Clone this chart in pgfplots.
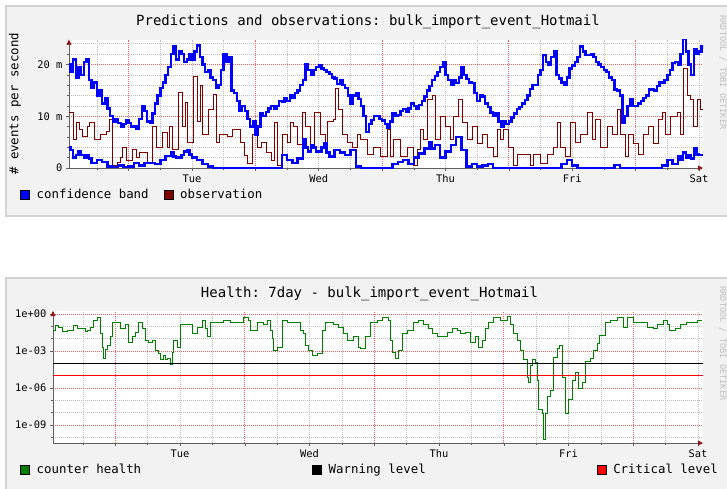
\documentclass[border=0pt]{standalone}
\usepackage{fontspec}
\setmainfont{DejaVu Sans Mono}
\usepackage{pgfplots}
\pgfplotsset{compat=1.18}
\usepackage{pgfplotstable}
\usetikzlibrary{arrows.meta}

\definecolor{panelbg}{HTML}{F2F2F2}
\definecolor{panelrule}{HTML}{D2D2D2}
\definecolor{bandblue}{HTML}{0000FF}
\definecolor{obsred}{HTML}{800000}
\definecolor{healthgreen}{HTML}{008000}
\definecolor{critred}{HTML}{FF0000}
\definecolor{axisgray}{HTML}{606060}
\definecolor{arrowred}{HTML}{901818}
\definecolor{gridgray}{HTML}{BEBEBE}
\definecolor{gridred}{HTML}{F06060}
\definecolor{wmgray}{HTML}{C0C0C0}

% upper and lower edge of the confidence band, hours from Monday 00:00
\pgfplotstableread{
h v
0.71 20
1 18.5
1.5 21
2 17.5
2.5 19.5
3 18
3.5 20.5
4 21
4.5 17
5 15.5
5.5 16.5
6 14
6.5 15
7 12.5
7.5 13.5
8 11.5
8.5 10
9 9
9.5 9.5
10 8.7
10.5 8
11 8.5
11.5 9.2
12 8.7
12.5 8
13 8
13.5 7.5
14 9.5
14.5 12
15 11
15.5 9
16 8.7
16.5 10.5
17 12.5
17.5 14
18 15.5
18.5 16.5
19 18
19.5 19.5
20 22
20.5 23.5
21 21
21.5 22.5
22 22
22.5 20.5
23 21
23.5 22
24 21
24.5 22.5
25 23.7
25.5 21.5
26 20
26.5 18.5
27 19
27.5 17.5
28 17
28.5 15.5
29 16
29.5 19
30 22
30.5 20.5
31 21.5
31.5 15
32 14.5
32.5 13
33 11
33.5 12
34 11
34.5 9.5
35 8
35.5 9
36 6.5
36.5 8
37 10.5
37.5 10
38 10.8
38.5 11.5
39 12
39.5 11.5
40 12
40.5 13
41 12.8
41.5 13.5
42 13
42.5 14
43 13.6
43.5 14.5
44 15
44.5 16
45 17
45.5 20
46 19
46.5 18
47 19
47.5 19.5
48 19.8
48.5 19.2
49 19
49.5 18.5
50 18.2
50.5 17.5
51 17.3
51.5 16.2
52 17
52.5 16
53 15.5
53.5 14
54 12.5
54.5 14
55 14.5
55.5 13.3
56 12
56.5 10
57 7
57.5 8.5
58 9.3
58.5 10
59 10
59.5 9.5
60 9.2
60.5 8.5
61 7.7
61.5 9
62 10.5
62.5 10
63 10.3
63.5 11
64 11.4
64.5 10.8
65 11.5
65.5 12.5
66 12
66.5 11.5
67 12.2
67.5 13
68 13.8
68.5 15
69 15.8
69.5 17
70 17.8
70.5 18.6
71 19.5
71.5 20.5
72 18
72.5 17
73 16
73.5 17
74 16.4
74.5 17.5
75 19.5
75.5 18
76 17.2
76.5 16.5
77 16.4
77.5 14.5
78 13
78.5 14
79 13.8
79.5 12.5
80 11.8
80.5 10.7
81 10
81.5 10.5
82 9
82.5 8
83 9
83.5 8.5
84 9
84.5 9.8
85 10.5
85.5 11.4
86 11.8
86.5 12.5
87 13.2
87.5 14
88 15.3
88.5 16
89 16
89.5 18
90 19
90.5 21.8
91 20.5
91.5 20
92 21.5
92.5 22.5
93 18
93.5 17.3
94 16.5
94.5 16
95 17.5
95.5 19.2
96 19.8
96.5 20.5
97 21.5
97.5 23.5
98 22.5
98.5 21.8
99 21.8
99.5 22
100 21.5
100.5 20.5
101 20
101.5 19.5
102 19
102.5 18.6
103 17.5
103.5 17
104 15.2
104.5 15
105 14
105.5 8.8
106 10
106.5 12
107 13.3
107.5 12
108 12
108.5 12.5
109 13
109.5 13.5
110 14
110.5 15.3
111 15.2
111.5 15
112 15.8
112.5 16.5
113 16.5
113.5 17
114 18
114.5 19
115 20.3
115.5 20.5
116 20
116.5 22
117 25
117.5 22.5
118 20
118.5 18
119 23
119.5 22
120 22.5
120.5 23.5
120.76 23
}\upperband

\pgfplotstableread{
h v
0.71 4
1 3.5
1.5 2
2 2.5
2.5 3.2
3 2.5
3.5 2
4 2.5
4.5 1.8
5 1
6 1.5
7 1.2
8 0.3
9 0.2
10 0.5
11 0.2
12 0.3
13 1
14 0.5
15 1
16 1
17 0.8
18 1.5
19 2.3
20 3
20.5 2.2
21 2
22 2.5
22.5 3.2
23 3.5
23.5 2.6
24 2
25 1.5
26 0.8
27 0.3
28 0
41 2.5
42 1.5
43 1
44 1.8
45 5.5
45.5 4
46 3.2
46.5 4.4
47 4
47.5 3.2
48 3.2
48.5 4
49 4.8
49.5 3
50 2.2
51 3.5
52 3
53 2.5
54 3.5
55 0.3
56 0
62 0.8
63 1.2
64 1.5
65 0.8
66 2
67 2.8
68 3.8
69 4.9
69.5 3.8
70 4.5
71 2
72 3.2
73 4.5
74 6
75 3.5
76 0.3
77 0.8
78 0.3
79 0.5
80 0.8
81 0
94 0.8
95 1.5
96 0.5
97 0
104 0.6
105 0
113 0.5
114 1.5
115 0.8
116 2.2
116.5 1.5
117 3
117.5 2
118 2.5
118.5 1.8
119 3.8
119.5 2.6
120 2.5
120.76 2.5
}\lowerband

\pgfplotstableread{
h v
0.71 10.7
1.47 5.5
2.22 8.8
2.79 7.5
3.36 6
4.12 8
4.68 8.8
5.63 5.5
6.58 6.5
7.90 7
8.47 9.4
9.04 0.4
9.80 1
10.37 2
10.93 4
11.69 1.5
12.64 3.5
13.58 2
14.15 3
15.48 1
16.43 8
17.37 4
18.32 6.8
19.27 4
19.83 8
20.40 3.5
21.35 14.6
22.11 8
22.68 12.7
23.24 5
24.19 17.6
24.95 9
25.52 16
26.08 6.5
27.03 11.4
27.98 14.3
28.73 5
29.30 6.5
30.63 6
31.76 7.5
33.09 5
34.03 2.5
34.60 0.8
35.55 6.5
36.31 4
37.25 5
38.20 3
39.14 1.5
39.71 8.8
40.28 0.4
41.23 6.5
41.99 5
42.56 8.8
43.13 8
43.89 4.5
44.83 10.7
45.40 8
46.35 4.5
47.29 10.7
48.24 6.5
49.19 4
49.75 9
50.70 9.4
51.08 15.3
51.65 11.4
52.41 6.5
53.36 5
54.30 4
55.25 6.5
55.82 5.5
57.14 2.7
58.28 4
59.60 2.2
60.93 7.5
61.50 2.2
62.07 5.5
63.39 2.2
64.72 4
65.85 0.4
66.61 3.5
67.18 7.5
67.75 5.5
68.51 13.3
69.45 14
70.02 5.5
70.97 10
71.91 8
72.86 5.5
73.43 10
74.38 13.3
75.13 8.8
76.08 5.5
77.03 8
77.98 4.7
78.92 6.5
79.87 4
81.01 2.2
81.76 7.5
82.33 5.5
82.90 7.5
83.85 4
84.79 0.4
85.55 2.7
86.69 2.7
88.01 0.4
88.58 2.7
89.91 0.8
91.23 2.7
92.37 4
93.13 8.8
93.70 4
94.64 2.2
95.59 8.8
96.54 5
97.48 6.5
98.81 10.7
99.76 5.5
100.32 9.4
101.27 4
102.60 8
103.54 6.5
104.49 11.4
105.06 6.5
106.00 2.2
106.57 6.5
107.52 4.7
108.46 2.7
109.42 6.5
110.36 8
111.31 4.7
112.25 9.4
113.01 10.7
113.58 6.5
114.53 10
115.86 10.7
116.42 6.5
116.99 19.2
117.75 14
118.32 13.3
118.89 8
119.64 13.3
120.21 11.4
120.76 11.4
}\observation

\pgfplotstableread{
h v
0.46 0.05
0.83 0.11
1.39 0.089
2.13 0.042
3.06 0.05
4.17 0.11
4.91 0.072
5.47 0.072
6.39 0.042
6.76 0.05
7.32 0.089
7.88 0.32
8.62 0.48
9.17 0.029
9.54 0.0021
9.73 2.7e-4
10.10 0.0014
10.47 0.0026
11.03 0.014
11.40 0.22
12.32 0.22
12.88 0.072
13.81 0.13
14.36 0.0054
15.10 0.014
15.66 0.035
16.22 0.19
16.96 0.072
17.51 0.0078
18.07 0.0054
18.81 0.0078
19.37 0.0012
19.92 5.8e-4
20.29 1.9e-4
20.85 4.8e-4
21.22 1.9e-4
21.59 2.7e-4
22.15 8.9e-5
22.52 8.3e-4
22.70 0.0078
23.44 0.0021
24.00 0.13
25.30 0.13
26.22 0.029
27.15 0.089
28.08 0.32
28.63 0.072
29.00 0.014
29.56 0.19
30.86 0.19
31.97 0.32
33.27 0.19
33.82 0.22
35.12 0.19
35.68 0.48
36.60 0.32
36.97 0.05
38.27 0.22
39.38 0.13
40.13 0.32
40.68 0.05
41.05 0.011
41.24 0.0012
41.98 0.0021
42.91 0.32
43.84 0.19
44.94 0.19
46.24 0.05
46.79 0.029
47.16 0.0031
47.72 0.0012
48.46 4.8e-4
49.39 6.9e-4
50.31 0.05
50.87 0.19
51.43 0.22
52.35 0.13
53.28 0.089
54.21 0.029
54.95 0.0078
56.06 0.014
56.98 0.0021
57.35 0.0017
58.28 0.014
59.21 0.19
60.50 0.32
61.61 0.48
62.54 0.32
62.91 0.0078
63.28 8.3e-4
63.84 2.7e-4
64.40 0.0012
65.14 0.029
66.07 0.05
67.18 0.19
68.11 0.32
69.03 0.13
69.96 0.072
70.70 0.029
71.63 0.014
72.74 0.014
73.48 0.035
74.41 0.072
75.33 0.05
75.89 0.029
76.82 0.035
77.74 0.0054
78.67 0.014
79.23 0.0021
79.97 0.0078
80.52 0.072
81.08 0.22
82.01 0.48
83.30 0.32
83.86 0.32
84.60 0.58
85.16 0.13
85.71 0.029
86.45 0.0078
87.01 0.0012
87.57 1.9e-4
88.31 7.8e-6
88.49 2.6e-6
88.86 7.2e-5
89.23 1.9e-4
89.79 1.1e-4
90.16 4.5e-6
90.34 1.7e-8
91.09 9.3e-9
91.27 6.3e-11
91.64 9.3e-9
92.01 1.9e-7
92.57 6.9e-7
93.12 3.2e-4
93.87 0.0017
94.24 0.0031
94.79 7.8e-6
95.35 9.3e-9
95.90 1.1e-7
96.65 4.5e-6
97.20 1.7e-5
97.76 1e-6
98.50 2.6e-6
99.06 1.3e-4
99.98 2.7e-4
100.54 0.0012
101.28 0.0045
101.82 0.02
102.76 0.19
103.69 0.32
104.98 0.48
106.10 0.089
106.84 0.48
107.95 0.19
109.25 0.22
110.55 0.089
111.66 0.072
112.40 0.13
113.51 0.32
114.26 0.13
114.80 0.05
115.73 0.072
116.66 0.13
117.95 0.19
119.07 0.22
119.99 0.32
120.73 0.32
}\health

\pgfplotsset{
  rrd/.style={
    scale only axis,
    axis on top=false,
    axis background/.style={fill=white},
    axis x line=bottom, axis y line=left,
    axis line style={axisgray, line width=0.8pt},
    x axis line style={-{Triangle[length=5pt,width=5pt,color=arrowred]}},
    y axis line style={-{Triangle[length=5pt,width=5pt,color=arrowred]}},
    tick align=outside,
    major tick length=3pt, minor tick length=2pt,
    tick style={axisgray, line width=0.5pt},
    xtick={24,48,72,96,120},
    xticklabels={Tue,Wed,Thu,Fri,Sat},
    minor xtick={6,18,24,30,42,48,54,66,72,78,90,96,102,114,120},
    extra x ticks={12,36,60,84,108},
    extra x tick labels={},
    extra x tick style={grid=major},
    xmajorgrids=false, xminorgrids=true,
    ymajorgrids=true, yminorgrids=true,
    major grid style={gridred, dash pattern=on 1pt off 1pt, line width=0.8pt},
    minor grid style={gridgray, dash pattern=on 1pt off 1pt, line width=0.7pt},
    ticklabel style={font=\fontsize{10.4}{12}\selectfont},
    title style={font=\fontsize{14}{16}\selectfont, anchor=center},
    legend style={draw=none, fill=none, inner sep=0pt, anchor=west,
      font=\fontsize{12.4}{14}\selectfont, legend columns=-1,
      /tikz/every odd column/.append style={column sep=5pt}},
    legend cell align=left,
  },
}

\begin{document}
\frenchspacing
\begin{tikzpicture}
\useasboundingbox (0,0) rectangle (727pt,-489pt);
\fill[white] (0,0) rectangle (727pt,-489pt);
\filldraw[fill=panelbg, draw=panelrule, line width=1.5pt] (6pt,-6pt) rectangle (740pt,-216pt);
\filldraw[fill=panelbg, draw=panelrule, line width=1.5pt] (6pt,-278pt) rectangle (740pt,-500pt);
\node[rotate=-90, anchor=west, text=wmgray, font=\fontsize{8.6}{10}\selectfont] at (723pt,-12pt) {RRDTOOL / TOBI OETIKER};
\node[rotate=-90, anchor=west, text=wmgray, font=\fontsize{8.6}{10}\selectfont] at (723pt,-283pt) {RRDTOOL / TOBI OETIKER};

\begin{axis}[rrd,
  at={(69pt,-168pt)}, anchor=south west,
  width=634pt, height=128.3pt,
  xmin=0.71, xmax=120.76, ymin=0, ymax=24.8,
  ytick={0,10,20}, yticklabels={0,10 m,20 m},
  minor ytick={2,4,6,8,12,14,16,18,22,24},
  title={Predictions and observations: bulk\_import\_event\_Hotmail},
  title style={at={(axis description cs:0.4716,1.091)}},
  ylabel={\# events per second},
  ylabel style={at={(axis description cs:-0.0852,0.499)}, anchor=center,
    font=\fontsize{12.4}{14}\selectfont},
  legend style={at={(axis description cs:-0.0773,-0.2065)},
    /tikz/every even column/.append style={column sep=13pt}},
]
\addplot[const plot, color=obsred, line width=1pt, forget plot] table[x=h, y=v] {\observation};
\addplot[const plot, color=bandblue, line width=2.4pt,
  legend image code/.code={\draw[draw=black, fill=bandblue, line width=0.5pt] (0pt,-4.5pt) rectangle (9pt,4.5pt);}]
  table[x=h, y=v] {\upperband};
\addlegendentry{confidence band}
\addplot[const plot, color=bandblue, line width=2.4pt, forget plot] table[x=h, y=v] {\lowerband};
\addlegendimage{legend image code/.code={\draw[draw=black, fill=obsred, line width=0.5pt] (0pt,-4.5pt) rectangle (9pt,4.5pt);}}
\addlegendentry{observation}
\end{axis}

\begin{axis}[rrd,
  at={(53pt,-443pt)}, anchor=south west,
  width=650pt, height=132pt,
  xmin=0.46, xmax=120.93,
  ymode=log, ymin=3.5e-11, ymax=1.75,
  ytick={1,1e-3,1e-6,1e-9}, yticklabels={1e+00,1e-03,1e-06,1e-09},
  minor ytick={1e-1,1e-2,1e-7,1e-8,1e-10},
  title={Health: 7day - bulk\_import\_event\_Hotmail},
  title style={at={(axis description cs:0.487,1.083)}},
  legend style={at={(axis description cs:-0.0508,-0.2045)},
    /tikz/every even column/.append style={column sep=169pt}},
]
\addplot[const plot, color=healthgreen, line width=0.9pt,
  legend image code/.code={\draw[draw=black, fill=healthgreen, line width=0.5pt] (0pt,-4.5pt) rectangle (9pt,4.5pt);}]
  table[x=h, y=v] {\health};
\addlegendentry{counter health}
\addplot[draw=black, line width=1.1pt,
  legend image code/.code={\draw[draw=black, fill=black, line width=0.5pt] (0pt,-4.5pt) rectangle (9pt,4.5pt);}]
  coordinates {(0.46,1e-4) (120.93,1e-4)};
\addlegendentry{Warning level}
\addplot[draw=critred, line width=1.6pt,
  legend image code/.code={\draw[draw=black, fill=critred, line width=0.5pt] (0pt,-4.5pt) rectangle (9pt,4.5pt);}]
  coordinates {(0.46,1e-5) (120.93,1e-5)};
\addlegendentry{Critical level}
\end{axis}
\end{tikzpicture}
\end{document}
